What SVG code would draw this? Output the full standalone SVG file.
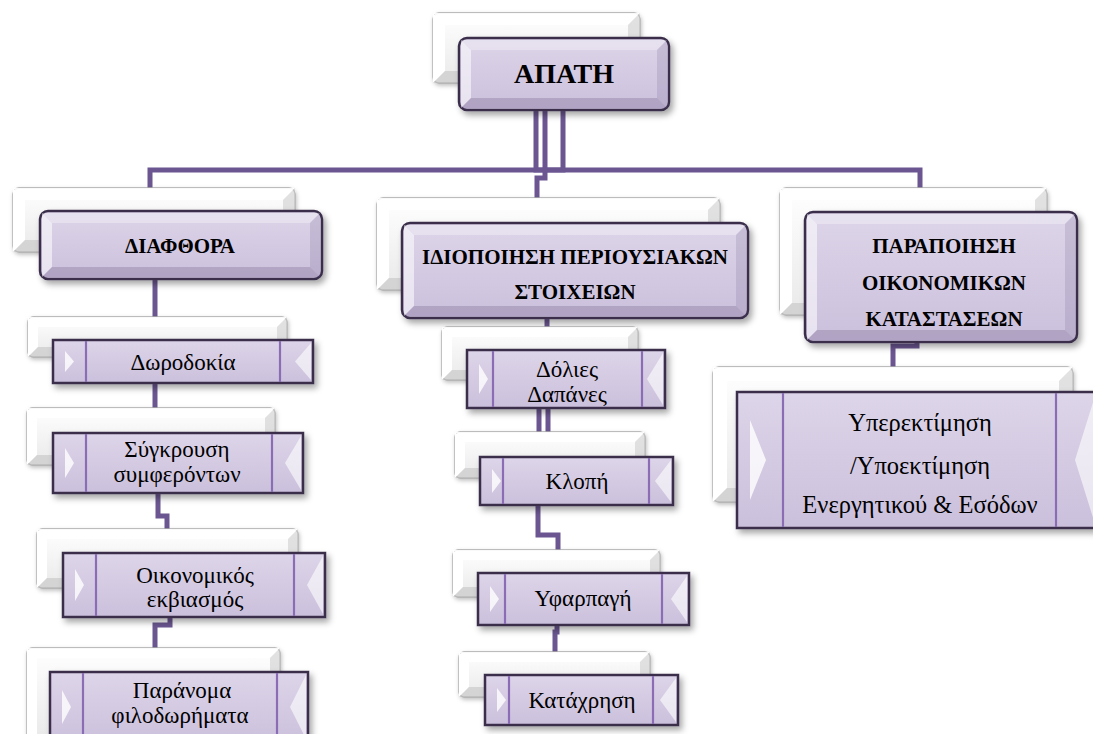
<svg xmlns="http://www.w3.org/2000/svg" width="1093" height="734" viewBox="0 0 1093 734">
<defs>
<linearGradient id="gBack" x1="0" y1="0" x2="0" y2="1"><stop offset="0" stop-color="#ffffff"/><stop offset="1" stop-color="#e9e9e9"/></linearGradient>
<linearGradient id="gFront" x1="0" y1="0" x2="0" y2="1"><stop offset="0" stop-color="#ddd5e9"/><stop offset="1" stop-color="#cbc0dc"/></linearGradient>
<filter id="sh" x="-10%" y="-20%" width="130%" height="150%"><feDropShadow dx="3" dy="4" stdDeviation="3" flood-color="#000" flood-opacity="0.35"/></filter>
<filter id="shb" x="-10%" y="-20%" width="130%" height="150%"><feDropShadow dx="1" dy="2" stdDeviation="2" flood-color="#000" flood-opacity="0.25"/></filter>
</defs>
<style>
.back{fill:url(#gBack);stroke:#a9a9a9;stroke-width:1.3;filter:url(#shb)}
.bt{fill:#ffffff;opacity:.9}
.bl{fill:#ffffff}
.br{fill:#cfcfcf;opacity:.6}
.bb{fill:#c4c4c4;opacity:.6}
.front{fill:url(#gFront);stroke:#3a2e4c;stroke-width:2.5;filter:url(#sh)}
.ft{fill:#ffffff;opacity:.3}
.fl{fill:#ffffff;opacity:.55}
.fr{fill:#7d6c97;opacity:.22}
.fb{fill:#5e4d78;opacity:.25}
.sub{fill:url(#gFront);stroke:#3a2e4c;stroke-width:2.5;filter:url(#sh)}
.dv{stroke:#8a6db5;stroke-width:2.2}
.tl{fill:#ffffff;opacity:.8}
.tr{fill:#ffffff;opacity:.6}
.conn{fill:none;stroke:#6b5691;stroke-width:5}
.t1{font-family:"Liberation Serif","Times New Roman",serif;font-weight:bold;font-size:28px;fill:#000;text-anchor:middle}
.t2{font-family:"Liberation Serif","Times New Roman",serif;font-weight:bold;font-size:21px;fill:#000;text-anchor:middle}
.t3{font-family:"Liberation Serif","Times New Roman",serif;font-size:23px;fill:#000;text-anchor:middle}
.t4{font-family:"Liberation Serif","Times New Roman",serif;font-size:24.5px;fill:#000;text-anchor:middle}
</style>

<g id="connectors">
<path class="conn" d="M563,110 V170 H150 V211"/>
<path class="conn" d="M536,110 V170 H920 V212"/>
<path class="conn" d="M545,110 V178 H537 V223"/>
<path class="conn" d="M155,279 V340"/>
<path class="conn" d="M155,383 V433"/>
<path class="conn" d="M158,493 V516 H167 V553"/>
<path class="conn" d="M170,617 V625 H155 V672"/>
<path class="conn" d="M547,318 V350"/>
<path class="conn" d="M539,407 V457"/>
<path class="conn" d="M548,407 V457"/>
<path class="conn" d="M538,505 V535 H558 V573"/>
<path class="conn" d="M557,625 V632 H555 V675"/>
<path class="conn" d="M917,342 V346 H893 V392"/>
</g>

<g id="n-apati">
<rect class="back" x="433" y="13" width="207" height="70" rx="6"/>
<polygon class="bt" points="433,13 640,13 628,25 445,25"/>
<polygon class="bl" points="433,13 445,25 445,71 433,83"/>
<polygon class="br" points="640,13 640,83 628,71 628,25"/>
<polygon class="bb" points="433,83 445,71 628,71 640,83"/>
<rect class="front" x="459" y="38" width="210" height="72" rx="8"/>
<polygon class="ft" points="461,40 667,40 657,50 471,50"/>
<polygon class="fl" points="461,40 471,50 471,98 461,108"/>
<polygon class="fr" points="667,40 667,108 657,98 657,50"/>
<polygon class="fb" points="461,108 471,98 657,98 667,108"/>
<text class="t1" x="564" y="83">ΑΠΑΤΗ</text>
</g>

<g id="n-diafthora">
<rect class="back" x="13" y="188" width="282" height="64" rx="6"/>
<polygon class="bt" points="13,188 295,188 283,200 25,200"/>
<polygon class="bl" points="13,188 25,200 25,240 13,252"/>
<polygon class="br" points="295,188 295,252 283,240 283,200"/>
<polygon class="bb" points="13,252 25,240 283,240 295,252"/>
<rect class="front" x="40" y="211" width="282" height="68" rx="8"/>
<polygon class="ft" points="42,213 320,213 310,223 52,223"/>
<polygon class="fl" points="42,213 52,223 52,267 42,277"/>
<polygon class="fr" points="320,213 320,277 310,267 310,223"/>
<polygon class="fb" points="42,277 52,267 310,267 320,277"/>
<text class="t2" x="180" y="253">ΔΙΑΦΘΟΡΑ</text>
</g>

<g id="n-idiopoiisi">
<rect class="back" x="377" y="198" width="343" height="92" rx="6"/>
<polygon class="bt" points="377,198 720,198 708,210 389,210"/>
<polygon class="bl" points="377,198 389,210 389,278 377,290"/>
<polygon class="br" points="720,198 720,290 708,278 708,210"/>
<polygon class="bb" points="377,290 389,278 708,278 720,290"/>
<rect class="front" x="402" y="223" width="346" height="95" rx="8"/>
<polygon class="ft" points="404,225 746,225 736,235 414,235"/>
<polygon class="fl" points="404,225 414,235 414,306 404,316"/>
<polygon class="fr" points="746,225 746,316 736,306 736,235"/>
<polygon class="fb" points="404,316 414,306 736,306 746,316"/>
<text class="t2" x="575" y="264">ΙΔΙΟΠΟΙΗΣΗ ΠΕΡΙΟΥΣΙΑΚΩΝ</text>
<text class="t2" x="575" y="299">ΣΤΟΙΧΕΙΩΝ</text>
</g>

<g id="n-parapoiisi">
<rect class="back" x="780" y="188" width="267" height="127" rx="6"/>
<polygon class="bt" points="780,188 1047,188 1035,200 792,200"/>
<polygon class="bl" points="780,188 792,200 792,303 780,315"/>
<polygon class="br" points="1047,188 1047,315 1035,303 1035,200"/>
<polygon class="bb" points="780,315 792,303 1035,303 1047,315"/>
<rect class="front" x="805" y="212" width="272" height="130" rx="8"/>
<polygon class="ft" points="807,214 1075,214 1065,224 817,224"/>
<polygon class="fl" points="807,214 817,224 817,330 807,340"/>
<polygon class="fr" points="1075,214 1075,340 1065,330 1065,224"/>
<polygon class="fb" points="807,340 817,330 1065,330 1075,340"/>
<text class="t2" x="944" y="253">ΠΑΡΑΠΟΙΗΣΗ</text>
<text class="t2" x="944" y="290">ΟΙΚΟΝΟΜΙΚΩΝ</text>
<text class="t2" x="944" y="326">ΚΑΤΑΣΤΑΣΕΩΝ</text>
</g>

<g id="n-dorodokia">
<rect class="back" x="28" y="317" width="259" height="40" rx="5"/>
<polygon class="bt" points="28,317 287,317 277,327 38,327"/>
<polygon class="bl" points="28,317 38,327 38,347 28,357"/>
<polygon class="br" points="287,317 287,357 277,347 277,327"/>
<polygon class="bb" points="28,357 38,347 277,347 287,357"/>
<rect class="sub" x="53" y="340" width="260" height="43"/>
<line class="dv" x1="86" y1="341" x2="86" y2="382"/>
<line class="dv" x1="280" y1="341" x2="280" y2="382"/>
<polygon class="tl" points="65,351 74,361.5 65,372"/>
<polygon class="tr" points="311,343 295,361.5 311,380"/>
<text class="t3" x="183" y="370">Δωροδοκία</text>
</g>

<g id="n-sygkrousi">
<rect class="back" x="27" y="408" width="248" height="57" rx="5"/>
<polygon class="bt" points="27,408 275,408 265,418 37,418"/>
<polygon class="bl" points="27,408 37,418 37,455 27,465"/>
<polygon class="br" points="275,408 275,465 265,455 265,418"/>
<polygon class="bb" points="27,465 37,455 265,455 275,465"/>
<rect class="sub" x="53" y="433" width="250" height="60"/>
<line class="dv" x1="86" y1="434" x2="86" y2="492"/>
<line class="dv" x1="272" y1="434" x2="272" y2="492"/>
<polygon class="tl" points="65,448 74,463 65,478"/>
<polygon class="tr" points="301,436 285,463 301,490"/>
<text class="t3" x="177" y="457">Σύγκρουση</text>
<text class="t3" x="177" y="482">συμφερόντων</text>
</g>

<g id="n-oikonomikos">
<rect class="back" x="37" y="529" width="261" height="59" rx="5"/>
<polygon class="bt" points="37,529 298,529 288,539 47,539"/>
<polygon class="bl" points="37,529 47,539 47,578 37,588"/>
<polygon class="br" points="298,529 298,588 288,578 288,539"/>
<polygon class="bb" points="37,588 47,578 288,578 298,588"/>
<rect class="sub" x="63" y="553" width="262" height="64"/>
<line class="dv" x1="96" y1="554" x2="96" y2="616"/>
<line class="dv" x1="294" y1="554" x2="294" y2="616"/>
<polygon class="tl" points="75,569 84,585 75,601"/>
<polygon class="tr" points="323,556 307,585 323,614"/>
<text class="t3" x="195" y="583">Οικονομικός</text>
<text class="t3" x="195" y="607">εκβιασμός</text>
</g>

<g id="n-paranoma">
<rect class="back" x="27" y="648" width="253" height="92" rx="5"/>
<polygon class="bt" points="27,648 280,648 270,658 37,658"/>
<polygon class="bl" points="27,648 37,658 37,740 27,740"/>
<polygon class="br" points="280,648 280,740 270,740 270,658"/>
<rect class="sub" x="50" y="672" width="258" height="72"/>
<line class="dv" x1="83" y1="673" x2="83" y2="743"/>
<line class="dv" x1="277" y1="673" x2="277" y2="743"/>
<polygon class="tl" points="62,690 71,707 62,724"/>
<polygon class="tr" points="306,675 290,707 306,739"/>
<text class="t3" x="182" y="698">Παράνομα</text>
<text class="t3" x="180" y="723">φιλοδωρήματα</text>
</g>

<g id="n-dolies">
<rect class="back" x="442" y="327" width="196" height="53" rx="5"/>
<polygon class="bt" points="442,327 638,327 628,337 452,337"/>
<polygon class="bl" points="442,327 452,337 452,370 442,380"/>
<polygon class="br" points="638,327 638,380 628,370 628,337"/>
<polygon class="bb" points="442,380 452,370 628,370 638,380"/>
<rect class="sub" x="467" y="350" width="198" height="58"/>
<line class="dv" x1="493" y1="351" x2="493" y2="407"/>
<line class="dv" x1="642" y1="351" x2="642" y2="407"/>
<polygon class="tl" points="479,364 488,379 479,394"/>
<polygon class="tr" points="663,353 647,379 663,405"/>
<text class="t3" x="567" y="377">Δόλιες</text>
<text class="t3" x="567" y="402">Δαπάνες</text>
</g>

<g id="n-klopi">
<rect class="back" x="455" y="432" width="190" height="46" rx="5"/>
<polygon class="bt" points="455,432 645,432 635,442 465,442"/>
<polygon class="bl" points="455,432 465,442 465,468 455,478"/>
<polygon class="br" points="645,432 645,478 635,468 635,442"/>
<polygon class="bb" points="455,478 465,468 635,468 645,478"/>
<rect class="sub" x="480" y="457" width="193" height="48"/>
<line class="dv" x1="503" y1="458" x2="503" y2="504"/>
<line class="dv" x1="649" y1="458" x2="649" y2="504"/>
<polygon class="tl" points="492,469 501,481 492,493"/>
<polygon class="tr" points="671,460 655,481 671,502"/>
<text class="t3" x="577" y="489">Κλοπή</text>
</g>

<g id="n-yfarpagi">
<rect class="back" x="453" y="550" width="207" height="47" rx="5"/>
<polygon class="bt" points="453,550 660,550 650,560 463,560"/>
<polygon class="bl" points="453,550 463,560 463,587 453,597"/>
<polygon class="br" points="660,550 660,597 650,587 650,560"/>
<polygon class="bb" points="453,597 463,587 650,587 660,597"/>
<rect class="sub" x="478" y="573" width="211" height="52"/>
<line class="dv" x1="505" y1="574" x2="505" y2="624"/>
<line class="dv" x1="662" y1="574" x2="662" y2="624"/>
<polygon class="tl" points="490,586 499,599 490,612"/>
<polygon class="tr" points="687,576 671,599 687,622"/>
<text class="t3" x="583" y="606">Υφαρπαγή</text>
</g>

<g id="n-kataxrisi">
<rect class="back" x="459" y="652" width="191" height="45" rx="5"/>
<polygon class="bt" points="459,652 650,652 640,662 469,662"/>
<polygon class="bl" points="459,652 469,662 469,687 459,697"/>
<polygon class="br" points="650,652 650,697 640,687 640,662"/>
<polygon class="bb" points="459,697 469,687 640,687 650,697"/>
<rect class="sub" x="485" y="675" width="193" height="50"/>
<line class="dv" x1="509" y1="676" x2="509" y2="724"/>
<line class="dv" x1="653" y1="676" x2="653" y2="724"/>
<polygon class="tl" points="497,688 506,700 497,712"/>
<polygon class="tr" points="676,678 660,700 676,722"/>
<text class="t3" x="582" y="708">Κατάχρηση</text>
</g>

<g id="n-yperektimisi">
<rect class="back" x="713" y="367" width="360" height="135" rx="6"/>
<polygon class="bt" points="713,367 1073,367 1059,381 727,381"/>
<polygon class="bl" points="713,367 727,381 727,488 713,502"/>
<polygon class="br" points="1073,367 1073,502 1059,488 1059,381"/>
<polygon class="bb" points="713,502 727,488 1059,488 1073,502"/>
<rect class="sub" x="737" y="392" width="360" height="136"/>
<line class="dv" x1="783" y1="393" x2="783" y2="527"/>
<line class="dv" x1="1056" y1="393" x2="1056" y2="527"/>
<polygon class="tl" points="750,420 766,460 750,500"/>
<polygon class="tr" points="1095,396 1075,460 1095,524"/>
<text class="t4" x="920" y="431">Υπερεκτίμηση</text>
<text class="t4" x="920" y="474">/Υποεκτίμηση</text>
<text class="t4" x="920" y="513">Ενεργητικού &amp; Εσόδων</text>
</g>
</svg>
